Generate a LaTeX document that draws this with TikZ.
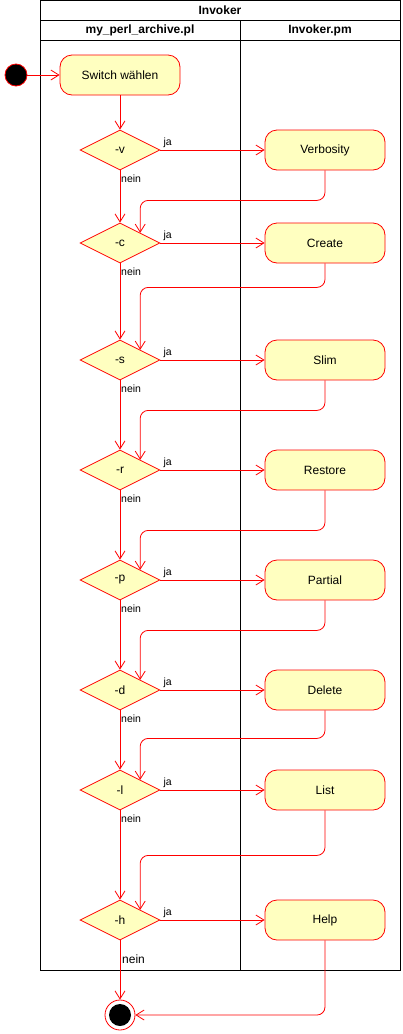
\documentclass[tikz,border=0pt]{standalone}
\usepackage{fontspec}
\setmainfont{Liberation Sans}
\usetikzlibrary{shapes.geometric,arrows.meta,calc}
\definecolor{actfill}{HTML}{FFFFC0}
\definecolor{actline}{HTML}{FF0000}
\begin{document}
\begin{tikzpicture}[x=1pt,y=-1pt,
 act/.style={draw=actline,fill=actfill,rounded corners=12pt,minimum width=120pt,minimum height=40pt,inner sep=0pt,font=\fontsize{12}{14}\selectfont,line width=0.8pt},
 dec/.style={diamond,draw=actline,fill=actfill,minimum width=80pt,minimum height=40pt,inner sep=0pt,aspect=2,font=\fontsize{12}{14}\selectfont,line width=0.8pt},
 flow/.style={draw=actline,line width=0.8pt,-{Straight Barb[length=8pt,width=10pt]}},
 ret/.style={flow,rounded corners=8pt},
 lab/.style={font=\fontsize{10.5}{12}\selectfont,inner sep=0pt,anchor=base west},
 lane/.style={draw=black,line width=1pt},
 hdr/.style={font=\bfseries\fontsize{12}{14}\selectfont,inner sep=0pt}
]
\useasboundingbox (0,0) rectangle (402,1034);
% pool
\draw[lane] (40,0) rectangle (400,970);
\draw[lane] (40,20) -- (400,20);
\draw[lane] (40,40) -- (400,40);
\draw[lane] (240,20) -- (240,970);
\node[hdr] (title) at (220,10) {Invoker};
\node[hdr] (lane1) at (140,30) {my\_perl\_archive.pl};
\node[hdr] (lane2) at (320,30) {Invoker.pm};
% start
\node[circle,fill=black,draw=actline,line width=0.8pt,minimum size=22pt,inner sep=0pt] (start) at (16,75) {};
\node[act] (sw) at (120,75) {Switch wählen};
% decisions and actions
\node[dec] (v) at (120,150) {-v};
\node[act] (bv) at (325,150) {Verbosity};
\node[dec] (c) at (120,243) {-c};
\node[act] (bc) at (325,243) {Create};
\node[dec] (s) at (120,360) {-s};
\node[act] (bs) at (325,360) {Slim};
\node[dec] (r) at (120,470) {-r};
\node[act] (br) at (325,470) {Restore};
\node[dec] (p) at (120,580) {-p};
\node[act] (bp) at (325,580) {Partial};
\node[dec] (d) at (120,690) {-d};
\node[act] (bd) at (325,690) {Delete};
\node[dec] (l) at (120,790) {-l};
\node[act] (bl) at (325,790) {List};
\node[dec] (h) at (120,920) {-h};
\node[act] (bh) at (325,920) {Help};
% end
\node[circle,draw=actline,fill=white,line width=0.8pt,minimum size=30pt,inner sep=0pt] (end) at (120,1015) {};
\node[circle,fill=black,minimum size=22pt,inner sep=0pt] (endin) at (end.center) {};
% flows
\draw[flow] (start) -- (sw.west);
\draw[flow] (sw.south) -- (v.north);
\foreach \a/\b in {v/c,c/s,s/r,r/p,p/d,d/l,l/h} {
  \draw[flow] (\a.south) -- (\b.north);
}
\foreach \a in {v,c,s,r,p,d,l,h} {
  \draw[flow] (\a.east) -- (b\a.west);
  \node[lab] (ja\a) at ($(\a.east)+(3,-5)$) {ja};
}
\foreach \a in {v,c,s,r,p,d,l} {
  \node[lab] (nein\a) at ($(\a.south)+(1,12)$) {nein};
}
\node[lab,font=\fontsize{12}{14}\selectfont] (neinh) at ($(h.south)+(2,23)$) {nein};
% returns
\draw[ret] (bv.south) -- ++(0,30) -| (c.north east);
\draw[ret] (bc.south) -- ++(0,24) -| (s.north east);
\draw[ret] (bs.south) -- ++(0,30) -| (r.north east);
\draw[ret] (br.south) -- ++(0,40) -| (p.north east);
\draw[ret] (bp.south) -- ++(0,30) -| (d.north east);
\draw[ret] (bd.south) -- ++(0,28) -| (l.north east);
\draw[ret] (bl.south) -- ++(0,45) -| (h.north east);
\draw[ret] (bh.south) |- (end.east);
\draw[flow] (h.south) -- (end.north);
\end{tikzpicture}
\end{document}
